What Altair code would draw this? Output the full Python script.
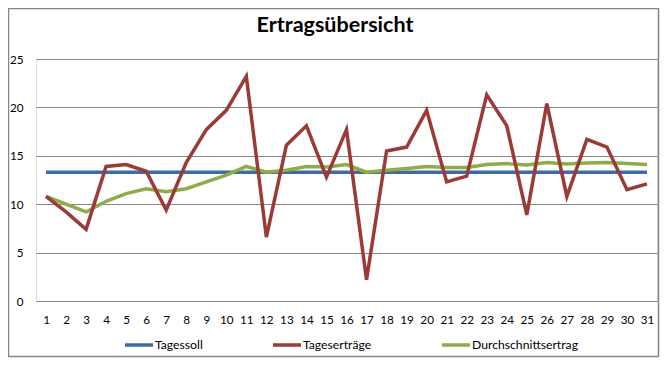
import altair as alt
import pandas as pd

days = list(range(1, 32))
tagessoll = [13.3] * 31
tagesertraege = [10.8, 9.2, 7.4, 13.9, 14.1, 13.4, 9.4, 14.3, 17.7, 19.7,
                 23.2, 6.6, 16.1, 18.1, 12.8, 17.7, 2.2, 15.5, 15.9, 19.7,
                 12.3, 12.9, 21.3, 18.1, 8.9, 20.4, 10.8, 16.7, 15.9, 11.5, 12.1]
durchschnitt = [10.8, 10.0, 9.2, 10.3, 11.1, 11.6, 11.3, 11.6, 12.3, 13.0,
                13.9, 13.3, 13.5, 13.9, 13.85, 14.1, 13.3, 13.5, 13.7, 13.9,
                13.8, 13.8, 14.1, 14.2, 14.05, 14.3, 14.15, 14.25, 14.3, 14.2, 14.1]

series_names = ["Tagessoll", "Tageserträge", "Durchschnittsertrag"]
series_colors = ["#3F6C9F", "#9B3B38", "#8FAC48"]
title_text = "Ertragsübersicht"

rows = []
for name, vals in zip(series_names, [tagessoll, tagesertraege, durchschnitt]):
    for d, v in zip(days, vals):
        rows.append({"Tag": d, "Wert": v, "Reihe": name})
df = pd.DataFrame(rows)

FONT = "Lato"

color = alt.Color(
    "Reihe:N",
    scale=alt.Scale(domain=series_names, range=series_colors),
    legend=alt.Legend(
        title=None, orient="none", direction="horizontal",
        legendX=87, legendY=270,
        symbolType="stroke", symbolSize=784, symbolStrokeWidth=3.5,
        labelOffset=0, columnPadding=63,
        labelFont=FONT, labelFontSize=12.2, labelColor="#000000",
    ),
)

x = alt.X("Tag:O", title=None,
          axis=alt.Axis(labelAngle=0, ticks=False, domain=False, labelPadding=13,
                        labelFont=FONT, labelFontSize=11.7, labelColor="#000000"))
y = alt.Y("Wert:Q", title=None,
          scale=alt.Scale(domain=[0, 25], nice=False),
          axis=alt.Axis(values=[0, 5, 10, 15, 20, 25], ticks=False, domain=False,
                        labelPadding=13, labelFont=FONT, labelFontSize=11.7,
                        labelColor="#000000", grid=True, gridColor="#868686",
                        gridWidth=1))

base = alt.Chart(df)

def layer_for(name):
    return base.transform_filter(alt.datum.Reihe == name).mark_line(
        strokeWidth=3.5, strokeJoin="miter", strokeCap="butt"
    ).encode(x=x, y=y, color=color)

one = pd.DataFrame({"a": [0]})

border = alt.Chart(one).mark_rect(
    fillOpacity=0, stroke="#868686", strokeWidth=1.5
).encode(x=alt.value(-27.5), x2=alt.value(622.5), y=alt.value(-50.5), y2=alt.value(297.5))

title = alt.Chart(one).mark_text(
    font=FONT, fontSize=21.5, fontWeight="bold", color="#000000",
    align="center", baseline="alphabetic"
).encode(x=alt.value(299), y=alt.value(-27), text=alt.value(title_text))

chart = alt.layer(
    layer_for("Tagessoll"),
    layer_for("Durchschnittsertrag"),
    layer_for("Tageserträge"),
    border,
    title,
).properties(
    width=621, height=242,
    autosize=alt.AutoSizeParams(type="none"),
    padding={"left": 28, "top": 51, "right": 3, "bottom": 57},
).configure_view(stroke=None).configure(background="white")

chart.save("out.html", embed_options={"renderer": "svg", "actions": False})
